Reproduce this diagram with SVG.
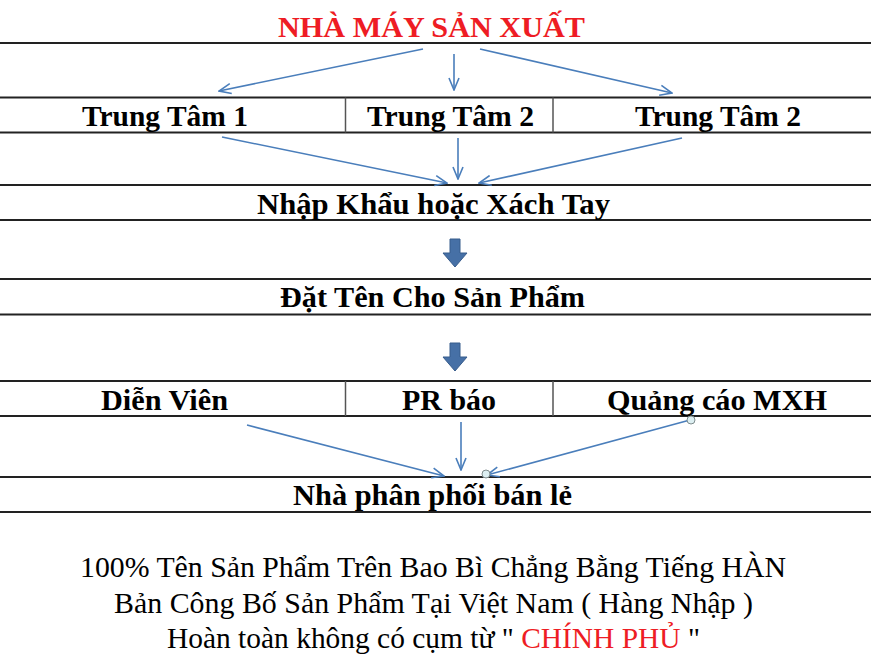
<svg xmlns="http://www.w3.org/2000/svg" width="871" height="660" viewBox="0 0 871 660">
  <style>
    text { font-family: 'Liberation Serif', 'Times New Roman', Times, serif; }
    .lbl { font-weight: bold; font-size: 30px; fill: #000; text-anchor: middle; }
    .note { font-size: 29px; fill: #000; text-anchor: middle; }
    .red { fill: #EE1C24; }
    .hl { stroke: #222; stroke-width: 2; }
    .vl { stroke: #555; stroke-width: 1.5; }
    .conn { stroke: #4A7EBB; stroke-width: 1.6; fill: none; marker-end: url(#open); }
    .block { fill: #4670A6; stroke: #375C8C; stroke-width: 1; }
    .handle { fill: #DDEFF2; stroke: #7F8C8D; stroke-width: 1; }
  </style>
  <defs>
    <marker id="open" viewBox="0 0 14 12" refX="13" refY="6" markerWidth="14" markerHeight="12" markerUnits="userSpaceOnUse" orient="auto">
      <path d="M1,1 L13,6 L1,11" fill="none" stroke="#4A7EBB" stroke-width="1.6"/>
    </marker>
  </defs>
  <rect width="871" height="660" fill="#fff"/>

  <g id="title" font-family="Liberation Serif, serif">
    <text class="lbl red" x="431.5" y="37" textLength="307" lengthAdjust="spacingAndGlyphs">NHÀ MÁY SẢN XUẤT</text>
    <line class="hl" x1="0" y1="43" x2="871" y2="43"/>
  </g>

  <g id="row-trungtam">
    <line class="hl" x1="0" y1="97.5" x2="871" y2="97.5"/>
    <line class="hl" x1="0" y1="132.5" x2="871" y2="132.5"/>
    <line class="vl" x1="345.5" y1="97.5" x2="345.5" y2="132.5"/>
    <line class="vl" x1="553" y1="97.5" x2="553" y2="132.5"/>
  </g>
  <g id="trungtam1"><text class="lbl" x="165" y="126" textLength="166" lengthAdjust="spacingAndGlyphs">Trung Tâm 1</text></g>
  <g id="trungtam2a"><text class="lbl" x="450.5" y="126" textLength="167" lengthAdjust="spacingAndGlyphs">Trung Tâm 2</text></g>
  <g id="trungtam2b"><text class="lbl" x="718" y="126" textLength="166" lengthAdjust="spacingAndGlyphs">Trung Tâm 2</text></g>

  <g id="nhapkhau">
    <line class="hl" x1="0" y1="185" x2="871" y2="185"/>
    <line class="hl" x1="0" y1="220" x2="871" y2="220"/>
    <text class="lbl" x="433.5" y="214" textLength="353" lengthAdjust="spacingAndGlyphs">Nhập Khẩu hoặc Xách Tay</text>
  </g>

  <g id="datten">
    <line class="hl" x1="0" y1="279" x2="871" y2="279"/>
    <line class="hl" x1="0" y1="314.5" x2="871" y2="314.5"/>
    <text class="lbl" x="432.5" y="307" textLength="305" lengthAdjust="spacingAndGlyphs">Đặt Tên Cho Sản Phẩm</text>
  </g>

  <g id="row-kenh">
    <line class="hl" x1="0" y1="381" x2="871" y2="381"/>
    <line class="hl" x1="0" y1="416" x2="871" y2="416"/>
    <line class="vl" x1="345.5" y1="381" x2="345.5" y2="416"/>
    <line class="vl" x1="553" y1="381" x2="553" y2="416"/>
  </g>
  <g id="dienvien"><text class="lbl" x="164.5" y="410" textLength="127" lengthAdjust="spacingAndGlyphs">Diễn Viên</text></g>
  <g id="prbao"><text class="lbl" x="449" y="410" textLength="94" lengthAdjust="spacingAndGlyphs">PR báo</text></g>
  <g id="quangcao"><text class="lbl" x="717" y="410" textLength="220" lengthAdjust="spacingAndGlyphs">Quảng cáo MXH</text></g>

  <g id="nhaphanphoi">
    <line class="hl" x1="0" y1="477" x2="871" y2="477"/>
    <line class="hl" x1="0" y1="512" x2="871" y2="512"/>
    <text class="lbl" x="432.5" y="505" textLength="279" lengthAdjust="spacingAndGlyphs">Nhà phân phối bán lẻ</text>
  </g>

  <g id="connectors">
    <line class="conn" x1="423" y1="49" x2="219" y2="91"/>
    <line class="conn" x1="454" y1="54" x2="454" y2="90"/>
    <line class="conn" x1="480" y1="49" x2="672" y2="93"/>
    <line class="conn" x1="222" y1="137" x2="447" y2="183"/>
    <line class="conn" x1="458" y1="138" x2="458" y2="179"/>
    <line class="conn" x1="682" y1="138" x2="479" y2="183"/>
    <path class="block" d="M450,239 L460,239 L460,253 L467,253 L455,267 L443,253 L450,253 Z"/>
    <path class="block" d="M450,343 L460,343 L460,357 L467,357 L455,371 L443,357 L450,357 Z"/>
    <line class="conn" x1="247" y1="425" x2="444" y2="476"/>
    <line class="conn" x1="461" y1="422" x2="461" y2="470"/>
    <line class="conn" x1="690" y1="420" x2="487" y2="475"/>
    <circle class="handle" cx="691" cy="420" r="4"/>
    <circle class="handle" cx="486" cy="474" r="4"/>
  </g>

  <g id="notes">
    <text class="note" x="433" y="577" textLength="706" lengthAdjust="spacingAndGlyphs">100% Tên Sản Phẩm Trên Bao Bì Chẳng Bằng Tiếng HÀN</text>
    <text class="note" x="433.5" y="613" textLength="639" lengthAdjust="spacingAndGlyphs">Bản Công Bố Sản Phẩm Tại Việt Nam ( Hàng Nhập )</text>
    <text class="note" x="433.5" y="648" textLength="533" lengthAdjust="spacingAndGlyphs">Hoàn toàn không có cụm từ " <tspan class="red">CHÍNH PHỦ</tspan> "</text>
  </g>
</svg>
